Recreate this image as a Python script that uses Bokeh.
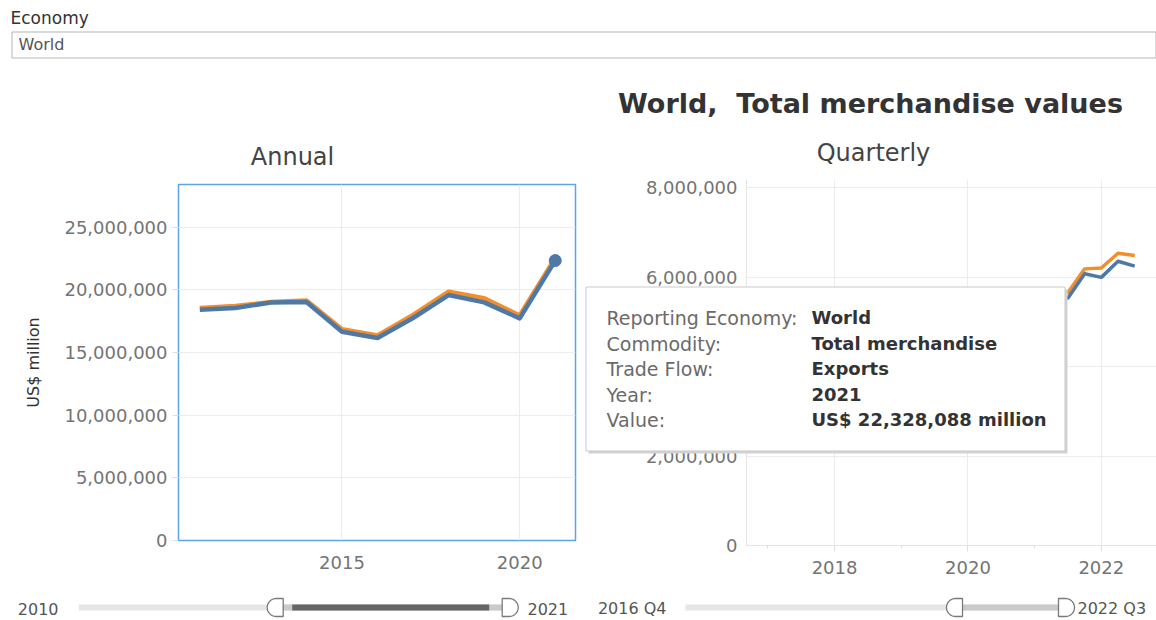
import numpy as np
from bokeh.plotting import figure
from bokeh.models import Range1d, FixedTicker, NumeralTickFormatter, ColumnDataSource, GridBox
from bokeh.core.properties import value
from bokeh.embed import file_html
from bokeh.resources import INLINE

FONT = value("DejaVu Sans")

# ---------------- data ----------------
economy = "World"
commodity = "Total merchandise"
years = [2011, 2012, 2013, 2014, 2015, 2016, 2017, 2018, 2019, 2020, 2021]
annual_exports = [18400000, 18550000, 18980000, 19020000, 16650000, 16150000,
                  17750000, 19580000, 19000000, 17720000, 22328088]
annual_imports = [18550000, 18700000, 19020000, 19150000, 16850000, 16350000,
                  18000000, 19850000, 19320000, 17950000, 22550000]

quarters = ["2016 Q4",
            "2017 Q1", "2017 Q2", "2017 Q3", "2017 Q4",
            "2018 Q1", "2018 Q2", "2018 Q3", "2018 Q4",
            "2019 Q1", "2019 Q2", "2019 Q3", "2019 Q4",
            "2020 Q1", "2020 Q2", "2020 Q3", "2020 Q4",
            "2021 Q1", "2021 Q2", "2021 Q3", "2021 Q4",
            "2022 Q1", "2022 Q2", "2022 Q3"]
quarterly_exports = [4180000,
                     4170000, 4400000, 4470000, 4740000,
                     4740000, 4970000, 4900000, 4950000,
                     4640000, 4780000, 4740000, 4800000,
                     4250000, 3780000, 4580000, 5000000,
                     5120000, 5560000, 5540000, 6080000,
                     6000000, 6360000, 6250000]
quarterly_imports = [4250000,
                     4250000, 4480000, 4560000, 4840000,
                     4860000, 5080000, 5030000, 5080000,
                     4750000, 4880000, 4860000, 4900000,
                     4350000, 3860000, 4650000, 5080000,
                     5180000, 5660000, 5660000, 6190000,
                     6210000, 6540000, 6490000]

annual_y_ticks = [0, 5000000, 10000000, 15000000, 20000000, 25000000]
annual_x_ticks = [2015, 2020]
quarterly_y_ticks = [0, 2000000, 4000000, 6000000, 8000000]
quarterly_x_ticks = [2018, 2020, 2022]
quarterly_x_minor = [2017, 2019, 2021]

annual_slider_domain = [2010, 2021]
annual_slider_sel = [2015, 2021]
quarter_slider_domain = ["2016 Q4", "2022 Q3"]
quarter_slider_sel = ["2021 Q1", "2022 Q3"]

tooltip_keys = ["Reporting Economy:", "Commodity:", "Trade Flow:", "Year:", "Value:"]
tooltip_vals = [economy, commodity, "Exports", str(years[-1]),
                "US$ {:,} million".format(annual_exports[-1])]

BLUE = "#4e79a7"
ORANGE = "#f28e2b"
GRID = "#ececec"
TICK_TXT = "#747474"


def qnum(q):
    y, qq = q.split(" Q")
    return int(y) + (int(qq) - 1) / 4.0


def no_align(f):
    try:
        f.frame_align = False
    except Exception:
        pass
    return f


def blank(width, height, x0, x1, y_top, y_bottom):
    f = figure(width=width, height=height, x_range=Range1d(x0, x1), y_range=Range1d(y_bottom, y_top),
               output_backend="svg", toolbar_location=None, min_border=0,
               x_axis_location=None, y_axis_location=None)
    f.grid.grid_line_color = None
    f.outline_line_color = None
    return no_align(f)


# ---------------- header ----------------
hdr = blank(1156, 170, 0, 1156, 0, 170)
hdr.text(x=[10], y=[17], text=["Economy"], text_font=FONT, text_font_size="17px",
         text_color="#333333", text_baseline="middle", text_align="left")
hdr.quad(left=[11.5], right=[1155.5], top=[31.5], bottom=[57.5], fill_color="white",
         line_color="#b5b5b5", line_width=1)
hdr.text(x=[18], y=[44], text=[economy], text_font=FONT, text_font_size="16px",
         text_color="#555555", text_baseline="middle", text_align="left")
hdr.text(x=[870], y=[103], text=[economy + ",\u00a0 " + commodity + " values"], text_font=FONT,
         text_font_size="27px", text_font_style="bold", text_color="#333333",
         text_baseline="middle", text_align="center")
hdr.text(x=[292], y=[156], text=["Annual"], text_font=FONT, text_font_size="24px",
         text_color="#444444", text_baseline="middle", text_align="center")
hdr.text(x=[873], y=[152], text=["Quarterly"], text_font=FONT, text_font_size="24px",
         text_color="#444444", text_baseline="middle", text_align="center")


def style_axes(p):
    for ax in p.axis:
        ax.major_label_text_font = "DejaVu Sans"
        ax.major_label_text_font_size = "18px"
        ax.major_label_text_color = TICK_TXT
        ax.major_tick_line_color = "#dddddd"
        ax.minor_tick_line_color = "#dddddd"
        ax.major_tick_in = 0
        ax.minor_tick_in = 0
    p.grid.grid_line_color = GRID
    p.grid.grid_line_width = 1
    p.background_fill_color = "white"
    p.border_fill_color = "white"
    no_align(p)


# ---------------- annual chart ----------------
pa = figure(width=580, height=420, x_range=Range1d(2010.4, 2021.57), y_range=Range1d(0, 28.4e6),
            output_backend="svg", toolbar_location=None,
            min_border_left=178, min_border_right=5, min_border_top=14, min_border_bottom=50)
style_axes(pa)
pa.outline_line_color = "#5ba5e6"
pa.outline_line_width = 1.5
pa.yaxis.ticker = FixedTicker(ticks=annual_y_ticks)
pa.yaxis.formatter = NumeralTickFormatter(format="0,0")
pa.yaxis.axis_line_color = None
pa.yaxis.major_tick_out = 6
pa.yaxis.major_label_standoff = 5
pa.yaxis.minor_tick_out = 0
pa.yaxis.axis_label = "US$ million"
pa.yaxis.axis_label_text_font = "DejaVu Sans"
pa.yaxis.axis_label_text_font_size = "16px"
pa.yaxis.axis_label_text_font_style = "normal"
pa.yaxis.axis_label_text_color = "#333333"
pa.yaxis.axis_label_standoff = 18
pa.xaxis.ticker = FixedTicker(ticks=annual_x_ticks)
pa.xaxis.axis_line_color = None
pa.xaxis.major_tick_out = 0
pa.xaxis.minor_tick_out = 0
pa.xaxis.major_label_standoff = 15

asrc = ColumnDataSource(dict(year=years, exp=annual_exports, imp=annual_imports))
pa.line("year", "imp", source=asrc, color=ORANGE, line_width=4.5, line_join="round")
pa.line("year", "exp", source=asrc, color=BLUE, line_width=4.5, line_join="round")
pa.scatter(x=[years[-1]], y=[annual_exports[-1]], size=12, color=BLUE)

# ---------------- quarterly chart ----------------
pq = figure(width=576, height=420, x_range=Range1d(2016.68, 2022.827), y_range=Range1d(0, 8.19e6),
            output_backend="svg", toolbar_location=None,
            min_border_left=166, min_border_right=0, min_border_top=9, min_border_bottom=45)
style_axes(pq)
pq.outline_line_color = None
pq.yaxis.ticker = FixedTicker(ticks=quarterly_y_ticks)
pq.yaxis.formatter = NumeralTickFormatter(format="0,0")
pq.yaxis.axis_line_color = "#e4e4e4"
pq.yaxis.major_tick_out = 0
pq.yaxis.minor_tick_out = 0
pq.yaxis.major_label_standoff = 9
pq.xaxis.ticker = FixedTicker(ticks=quarterly_x_ticks, minor_ticks=quarterly_x_minor)
pq.xaxis.axis_line_color = "#e4e4e4"
pq.xaxis.major_tick_out = 6
pq.xaxis.minor_tick_out = 3
pq.xaxis.major_label_standoff = 9

qsrc = ColumnDataSource(dict(t=[qnum(q) for q in quarters], exp=quarterly_exports, imp=quarterly_imports))
pq.line("t", "imp", source=qsrc, color=ORANGE, line_width=3.5, line_join="round")
pq.line("t", "exp", source=qsrc, color=BLUE, line_width=3.5, line_join="round")

# ---------------- tooltip overlay (transparent figure over the chart row) ----------------
ov = blank(1156, 420, 0, 1156, 170, 590)
ov.background_fill_color = None
ov.border_fill_color = None
ov.quad(left=[588], right=[1067], top=[289], bottom=[453], fill_color="#d2d2d2", line_color=None)
ov.quad(left=[585.5], right=[1064.5], top=[286.5], bottom=[450.5], fill_color="white",
        line_color="#c9c9c9", line_width=1)
row_y = [317, 343, 368, 394, 419]
ov.text(x=[606] * 5, y=row_y, text=tooltip_keys, text_font=FONT, text_font_size="19px",
        text_color="#6a6a6a", text_baseline="middle", text_align="left")
ov.text(x=[811] * 5, y=row_y, text=tooltip_vals, text_font=FONT, text_font_size="18px",
        text_font_style="bold", text_color="#333333", text_baseline="middle", text_align="left")


# ---------------- sliders ----------------
def d_shape(xflat, yc, w, h, side):
    r = h / 2.0
    straight = w - r
    xs = [xflat, xflat + side * straight]
    ys = [yc - r, yc - r]
    for a in np.linspace(-np.pi / 2, np.pi / 2, 24):
        xs.append(xflat + side * (straight + r * np.cos(a)))
        ys.append(yc + r * np.sin(a))
    xs.append(xflat)
    ys.append(yc + r)
    return xs, ys


def slider_fig(width, px, lo_val, hi_val, dom_lo, dom_hi, lo_text, hi_text, lo_text_x, hi_text_x,
               track_pad, dark):
    s = blank(width, 30, 0, width, 0, 30)
    yc = 17
    x0 = px(dom_lo) - track_pad
    x1 = px(dom_hi)
    s.quad(left=[x0], right=[x1], top=[yc - 3], bottom=[yc + 3], fill_color="#e6e6e6", line_color=None)
    s.quad(left=[px(lo_val)], right=[px(hi_val)], top=[yc - 3], bottom=[yc + 3],
           fill_color="#cacaca", line_color=None)
    if dark:
        s.quad(left=[px(lo_val) + 9], right=[px(hi_val) - 13], top=[yc - 3], bottom=[yc + 3],
               fill_color="#666666", line_color=None)
    for val, side in ((lo_val, -1), (hi_val, 1)):
        xs, ys = d_shape(px(val), yc, 16, 18, side)
        s.patch(xs, ys, fill_color="white", line_color="#7a7a7a", line_width=1.3)
    s.text(x=[lo_text_x], y=[yc + 1], text=[lo_text], text_font=FONT, text_font_size="16px",
           text_color="#555555", text_baseline="middle", text_align="right")
    s.text(x=[hi_text_x], y=[yc + 1], text=[hi_text], text_font=FONT, text_font_size="16px",
           text_color="#555555", text_baseline="middle", text_align="left")
    return s


def apx(v):
    return 282.7 + (v - annual_slider_sel[0]) * 36.5


def qidx(q):
    return int(round((qnum(q) - qnum(quarter_slider_domain[0])) * 4))


def qpx(q):
    return 382 + (qidx(q) - qidx(quarter_slider_sel[0])) * 16


sa = slider_fig(580, apx, annual_slider_sel[0], annual_slider_sel[1],
                annual_slider_domain[0], annual_slider_domain[1],
                str(annual_slider_domain[0]), str(annual_slider_domain[1]), 58, 527, 22, True)
sq = slider_fig(576, qpx, quarter_slider_sel[0], quarter_slider_sel[1],
                quarter_slider_domain[0], quarter_slider_domain[1],
                quarter_slider_domain[0], quarter_slider_domain[1], 86, 497, 5, False)

layout = GridBox(children=[(hdr, 0, 0, 1, 2), (pa, 1, 0), (pq, 1, 1), (sa, 2, 0), (sq, 2, 1),
                           (ov, 1, 0, 1, 2)])
open("out.html", "w").write(file_html(layout, INLINE, "World, Total merchandise values"))
